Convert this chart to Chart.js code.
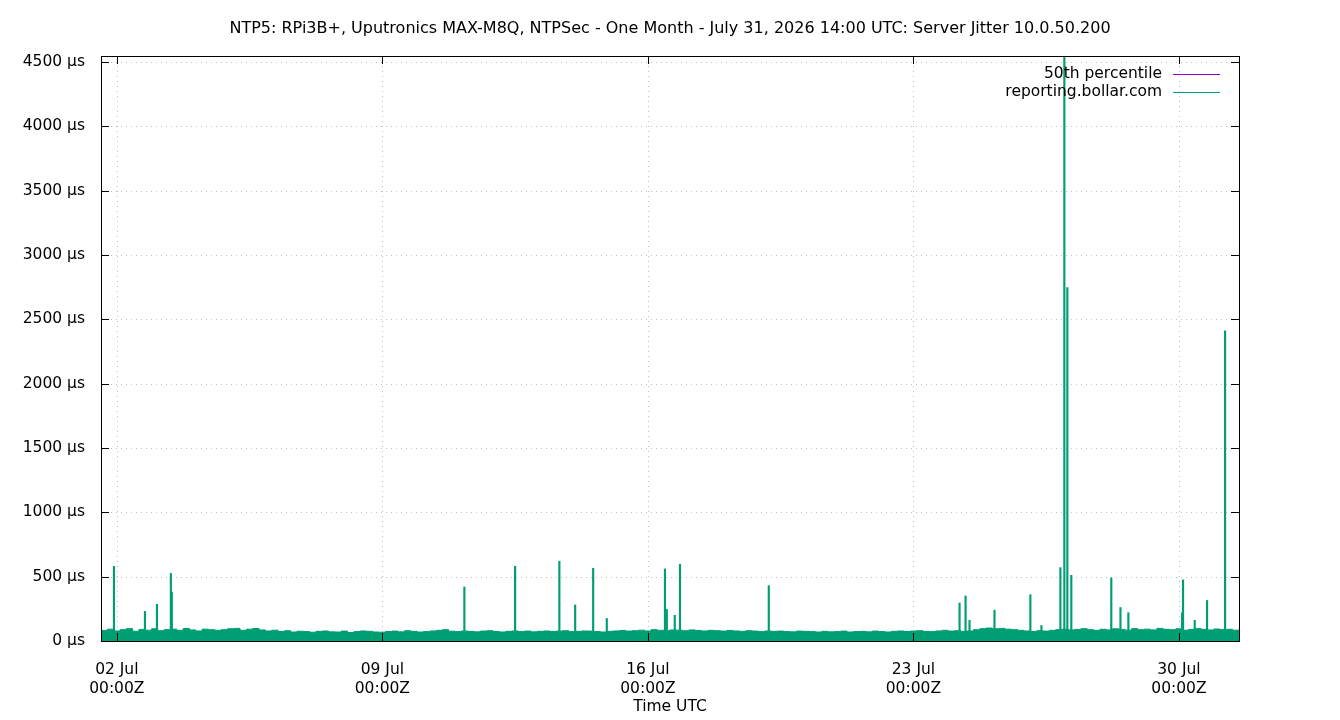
<!DOCTYPE html>
<html><head><meta charset="utf-8">
<script src="https://cdn.jsdelivr.net/npm/chart.js@4"></script>
<style>html,body{margin:0;padding:0;background:#fff}#w{width:1340px;height:720px}</style>
</head><body><div id="w"><canvas id="c"></canvas></div>
<script>
const titleText = "NTP5: RPi3B+, Uputronics MAX-M8Q, NTPSec - One Month - July 31, 2026 14:00 UTC: Server Jitter 10.0.50.200";
// hours since July 1, 2026 14:00 UTC
const tickHours = [10, 178, 346, 514, 682];
const tickLabels = [["02 Jul","00:00Z"],["09 Jul","00:00Z"],["16 Jul","00:00Z"],["23 Jul","00:00Z"],["30 Jul","00:00Z"]];
const yTicks = [0,500,1000,1500,2000,2500,3000,3500,4000,4500];
// baseline jitter every 4 hours (µs)
const baseStep = 4;
const baseline = [82,92,78,88,96,76,90,84,95,80,88,92,83,97,86,78,92,88,83,
88,95,98,83,92,97,86,78,84,74,80,70,76,73,68,75,78,71,70,77,66,73,78,75,70,68,74,77,71,80,75,70,73,78,83,88,
76,73,78,75,71,77,80,74,70,75,78,73,77,71,75,78,74,77,80,73,75,78,77,73,70,75,78,82,77,80,84,78,88,83,80,86,
84,80,86,82,78,83,80,77,82,78,75,80,77,73,78,75,77,73,71,77,75,73,70,75,71,73,77,70,73,75,71,77,73,70,75,78,
74,77,80,75,73,78,83,77,80,75,78,88,96,101,95,98,92,88,83,78,74,80,77,83,88,92,86,90,96,88,83,91,86,95,90,84,96,88,92,86,98,91,88,95,84,90,96,91,86,93,88,91,84,88];
// spikes: hour, µs
const spikeHours = [8.2,27.8,35.4,44.2,44.8,229.9,262,290,300,311.4,320,356.8,358,363,366.3,422.5,543.2,547,549.5,565.3,588,595,607,609.5,611.4,613.9,639.2,645,650,684,684.6,692,699.8,711.2];
const spikeValues = [580,230,285,525,380,420,580,620,280,565,175,560,245,200,595,430,295,350,160,240,360,120,570,4800,2745,510,490,260,220,220,475,160,315,2410];
const medianValue = 45;

const baseData = baseline.map((v,i)=>({x:i*baseStep,y:v}));
const spikeData = spikeHours.map((h,i)=>({x:h,y:spikeValues[i]}));
const medData = [{x:0,y:medianValue},{x:720,y:medianValue}];
const GREEN = '#009e73', PURPLE = '#9400d3';
const F = 'DejaVu Sans';

const grid = {
  id:'grid',
  beforeDatasetsDraw(ch){
    const c=ch.ctx, a=ch.chartArea, xs=ch.scales.x, ys=ch.scales.y;
    c.save(); c.strokeStyle='#c0c0c0'; c.lineWidth=1; c.setLineDash([1,4]);
    c.beginPath();
    tickHours.forEach(h=>{const p=Math.round(xs.getPixelForValue(h))+0.5;c.moveTo(p,a.top);c.lineTo(p,a.bottom);});
    yTicks.forEach(v=>{const p=Math.round(ys.getPixelForValue(v))+0.5;c.moveTo(a.left,p);c.lineTo(a.right,p);});
    c.stroke(); c.restore();
  }
};
const deco = {
  id:'deco',
  afterDraw(ch){
    const c=ch.ctx, a=ch.chartArea;
    c.save();
    c.strokeStyle='#000'; c.lineWidth=1;
    c.strokeRect(Math.round(a.left)+0.5,Math.round(a.top)+0.5,Math.round(a.right-a.left),Math.round(a.bottom-a.top));
    const xs=ch.scales.x, ys=ch.scales.y;
    c.beginPath();
    tickHours.forEach(h=>{const p=Math.round(xs.getPixelForValue(h))+0.5;c.moveTo(p,a.bottom);c.lineTo(p,a.bottom-8);c.moveTo(p,a.top);c.lineTo(p,a.top+8);});
    yTicks.forEach(v=>{const p=Math.round(ys.getPixelForValue(v))+0.5;c.moveTo(a.left,p);c.lineTo(a.left+8,p);c.moveTo(a.right,p);c.lineTo(a.right-8,p);});
    c.stroke();
    c.fillStyle='#000'; c.font='16px "'+F+'"';
    c.textAlign='center'; c.textBaseline='middle';
    c.fillText(titleText, 670, 29);
    c.font='15.5px "'+F+'"';
    c.fillText('Time UTC', 670, 707);
    c.textAlign='right';
    const items=[['50th percentile',PURPLE,74],['reporting.bollar.com',GREEN,92]];
    items.forEach(([t,col,y])=>{c.fillStyle='#000';c.fillText(t,1162,y);c.strokeStyle=col;c.lineWidth=1;c.beginPath();c.moveTo(1173,y+0.5);c.lineTo(1220,y+0.5);c.stroke();});
    c.restore();
  }
};

new Chart(document.getElementById('c'),{
  data:{datasets:[
    {type:'line',label:'reporting.bollar.com',data:baseData,borderColor:GREEN,backgroundColor:GREEN,borderWidth:1,pointRadius:0,fill:'origin',stepped:true,order:2},
    {type:'bar',label:'spikes',data:spikeData,backgroundColor:GREEN,borderWidth:0,barThickness:1.5,order:1},
    {type:'line',label:'50th percentile',data:medData,borderColor:PURPLE,borderWidth:1,pointRadius:0,fill:false,order:3}
  ]},
  options:{
    responsive:true,maintainAspectRatio:false,animation:false,
    layout:{padding:{left:0,right:101,top:56,bottom:0}},
    plugins:{legend:{display:false},tooltip:{enabled:false}},
    scales:{
      x:{type:'linear',min:0,max:720,offset:false,
        afterBuildTicks(s){s.ticks=tickHours.map(v=>({value:v}));},
        afterFit(s){s.height=79;},
        grid:{display:false},
        border:{display:false},
        ticks:{color:'#000',font:{family:F,size:15.5},padding:12,maxRotation:0,autoSkip:false,
          callback:(v)=>{const i=tickHours.indexOf(v);return i>=0?tickLabels[i]:'';}}},
      y:{min:0,max:4545,
        afterBuildTicks(s){s.ticks=yTicks.map(v=>({value:v}));},
        afterFit(s){s.width=101;},
        grid:{display:false},
        border:{display:false},
        ticks:{color:'#000',font:{family:F,size:15.5},padding:8,callback:v=>v+' µs'}}
    }
  },
  plugins:[grid,deco]
});
</script></body></html>
